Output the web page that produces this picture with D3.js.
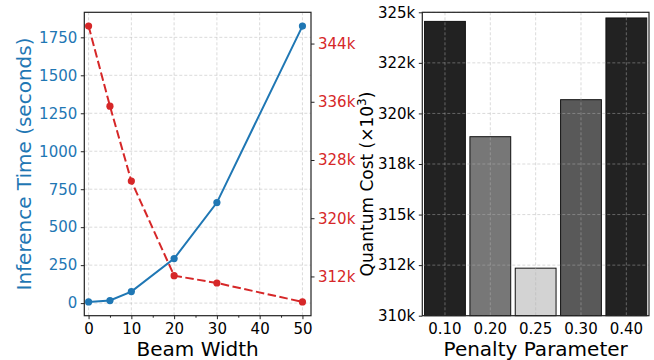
<!DOCTYPE html>
<html>
<head>
<meta charset="utf-8">
<script src="https://d3js.org/d3.v7.min.js"></script>
<style>
  body { margin: 0; background: #fff; }
  svg { font-family: "DejaVu Sans", sans-serif; }
</style>
</head>
<body>
<div id="chart"></div>
<script>
// Left panel: beam width sweep
const beamWidths = [0, 5, 10, 20, 30, 50];
const inferenceTime = [8, 17, 76, 293, 662, 1824];
const quantumCostBeam = [346400, 335400, 325100, 312100, 311100, 308500];
const timeTicks = [0, 250, 500, 750, 1000, 1250, 1500, 1750];
const costTicksBeam = [312000, 320000, 328000, 336000, 344000];
const beamTicks = [0, 10, 20, 30, 40, 50];
const beamMinorTicks = [5, 15, 25, 35, 45];

// Right panel: penalty parameter sweep
const penalties = ["0.10", "0.20", "0.25", "0.30", "0.40"];
const quantumCostPenalty = [324550, 318850, 312350, 320680, 324720];
const barColors = ["#222222", "#777777", "#d3d3d3", "#595959", "#222222"];
const penaltyTickValues = [310000, 312500, 315000, 317500, 320000, 322500, 325000];
const penaltyTickLabels = ["310k", "312k", "315k", "318k", "320k", "322k", "325k"];

const W = 654, H = 360;
const blue = "#1f77b4", red = "#d62728";
const tickFont = "15px", labelFont = "20px";

const svg = d3.select("#chart").append("svg")
    .attr("width", W)
    .attr("height", H);

// data range with matplotlib style 5% margins
function padded(vals) {
    const [lo, hi] = d3.extent(vals);
    const m = (hi - lo) * 0.05;
    return [lo - m, hi + m];
}

function styleAxis(g, color) {
    g.select(".domain").remove();
    g.selectAll(".tick line").attr("stroke", "#222").attr("stroke-width", 1);
    g.selectAll(".tick text")
        .attr("fill", color)
        .style("font-size", tickFont)
        .style("font-family", "DejaVu Sans, sans-serif");
}

function gridStyle(sel) {
    sel.attr("stroke", "#b0b0b0")
        .attr("stroke-opacity", 0.6)
        .attr("stroke-width", 0.8)
        .attr("stroke-dasharray", "3,2");
}

// ---------- left panel ----------
const L = { left: 84.3, right: 311, top: 12.3, bottom: 315.7 };

const x1 = d3.scaleLinear().domain([-1, 52]).range([L.left, L.right]);
const y1 = d3.scaleLinear().domain(padded(inferenceTime)).range([L.bottom, L.top]);
const y2 = d3.scaleLinear().domain(padded(quantumCostBeam)).range([L.bottom, L.top]);

const left = svg.append("g");

// grid
left.append("g").selectAll("line")
    .data(beamTicks).enter().append("line")
    .attr("x1", d => x1(d)).attr("x2", d => x1(d))
    .attr("y1", L.top).attr("y2", L.bottom)
    .call(gridStyle);
left.append("g").selectAll("line")
    .data(timeTicks).enter().append("line")
    .attr("x1", L.left).attr("x2", L.right)
    .attr("y1", d => y1(d)).attr("y2", d => y1(d))
    .call(gridStyle);

// blue series: inference time
const timeLine = d3.line()
    .x((d, i) => x1(beamWidths[i]))
    .y(d => y1(d));

left.append("path")
    .datum(inferenceTime)
    .attr("fill", "none")
    .attr("stroke", blue)
    .attr("stroke-width", 2)
    .attr("d", timeLine);

left.selectAll(".dot-time")
    .data(inferenceTime).enter().append("circle")
    .attr("cx", (d, i) => x1(beamWidths[i]))
    .attr("cy", d => y1(d))
    .attr("r", 3.6)
    .attr("fill", blue);

// red series: quantum cost
const costLine = d3.line()
    .x((d, i) => x1(beamWidths[i]))
    .y(d => y2(d));

left.append("path")
    .datum(quantumCostBeam)
    .attr("fill", "none")
    .attr("stroke", red)
    .attr("stroke-width", 2)
    .attr("stroke-dasharray", "8.5,3.5")
    .attr("d", costLine);

left.selectAll(".dot-cost")
    .data(quantumCostBeam).enter().append("circle")
    .attr("cx", (d, i) => x1(beamWidths[i]))
    .attr("cy", d => y2(d))
    .attr("r", 3.6)
    .attr("fill", red);

// axes
left.append("g")
    .attr("transform", `translate(0,${L.bottom})`)
    .call(d3.axisBottom(x1).tickValues(beamTicks).tickSizeInner(3.5).tickPadding(4))
    .call(g => styleAxis(g, "#000"));
left.append("g")
    .attr("transform", `translate(0,${L.bottom})`)
    .call(d3.axisBottom(x1).tickValues(beamMinorTicks).tickSizeInner(2).tickFormat(""))
    .call(g => styleAxis(g, "#000"));
left.append("g")
    .attr("transform", `translate(${L.left},0)`)
    .call(d3.axisLeft(y1).tickValues(timeTicks).tickSizeInner(3.5).tickPadding(3.5).tickFormat(d3.format("d")))
    .call(g => styleAxis(g, blue));
left.append("g")
    .attr("transform", `translate(${L.right},0)`)
    .call(d3.axisRight(y2).tickValues(costTicksBeam).tickSizeInner(3.5).tickPadding(3.5).tickFormat(d => d / 1000 + "k"))
    .call(g => styleAxis(g, red));

// frame
left.append("rect")
    .attr("x", L.left).attr("y", L.top)
    .attr("width", L.right - L.left).attr("height", L.bottom - L.top)
    .attr("fill", "none")
    .attr("stroke", "#222")
    .attr("stroke-width", 1.2);

left.append("text")
    .attr("x", (L.left + L.right) / 2)
    .attr("y", 356)
    .attr("text-anchor", "middle")
    .style("font-size", labelFont)
    .text("Beam Width");

left.append("text")
    .attr("transform", `translate(31,${(L.top + L.bottom) / 2}) rotate(-90)`)
    .attr("text-anchor", "middle")
    .attr("fill", blue)
    .style("font-size", labelFont)
    .text("Inference Time (seconds)");

// ---------- right panel ----------
const R = { left: 422.3, right: 649, top: 12.3, bottom: 315.7 };

const xb = d3.scaleBand().domain(penalties).range([R.left, R.right]).paddingInner(0.1).paddingOuter(0.05);
const yb = d3.scaleLinear().domain([310000, 325000]).range([R.bottom, R.top]);

const right = svg.append("g");

right.selectAll("rect.bar")
    .data(quantumCostPenalty).enter().append("rect")
    .attr("class", "bar")
    .attr("x", (d, i) => xb(penalties[i]))
    .attr("y", d => yb(d))
    .attr("width", xb.bandwidth())
    .attr("height", d => R.bottom - yb(d))
    .attr("fill", (d, i) => barColors[i])
    .attr("stroke", "#111")
    .attr("stroke-width", 1);

// grid over bars
right.append("g").selectAll("line")
    .data(penalties).enter().append("line")
    .attr("x1", d => xb(d) + xb.bandwidth() / 2).attr("x2", d => xb(d) + xb.bandwidth() / 2)
    .attr("y1", R.top).attr("y2", R.bottom)
    .call(gridStyle);
right.append("g").selectAll("line")
    .data(penaltyTickValues).enter().append("line")
    .attr("x1", R.left).attr("x2", R.right)
    .attr("y1", d => yb(d)).attr("y2", d => yb(d))
    .call(gridStyle);

right.append("g")
    .attr("transform", `translate(0,${R.bottom})`)
    .call(d3.axisBottom(xb).tickSize(0).tickPadding(8))
    .call(g => styleAxis(g, "#000"));
right.append("g")
    .attr("transform", `translate(${R.left},0)`)
    .call(d3.axisLeft(yb).tickValues(penaltyTickValues).tickSizeInner(3.5).tickPadding(3.5)
        .tickFormat((d, i) => penaltyTickLabels[i]))
    .call(g => styleAxis(g, "#000"));

right.append("rect")
    .attr("x", R.left).attr("y", R.top)
    .attr("width", R.right - R.left).attr("height", R.bottom - R.top)
    .attr("fill", "none")
    .attr("stroke", "#222")
    .attr("stroke-width", 1.2);

right.append("text")
    .attr("x", (R.left + R.right) / 2)
    .attr("y", 356)
    .attr("text-anchor", "middle")
    .style("font-size", labelFont)
    .text("Penalty Parameter");

const yl = right.append("text")
    .attr("transform", `translate(373,184) rotate(-90)`)
    .attr("text-anchor", "middle")
    .style("font-size", "17px")
    .text("Quantum Cost (×10");
yl.append("tspan").attr("dy", -7).style("font-size", "12px").text("3");
yl.append("tspan").attr("dy", 7).text(")");
</script>
</body>
</html>
